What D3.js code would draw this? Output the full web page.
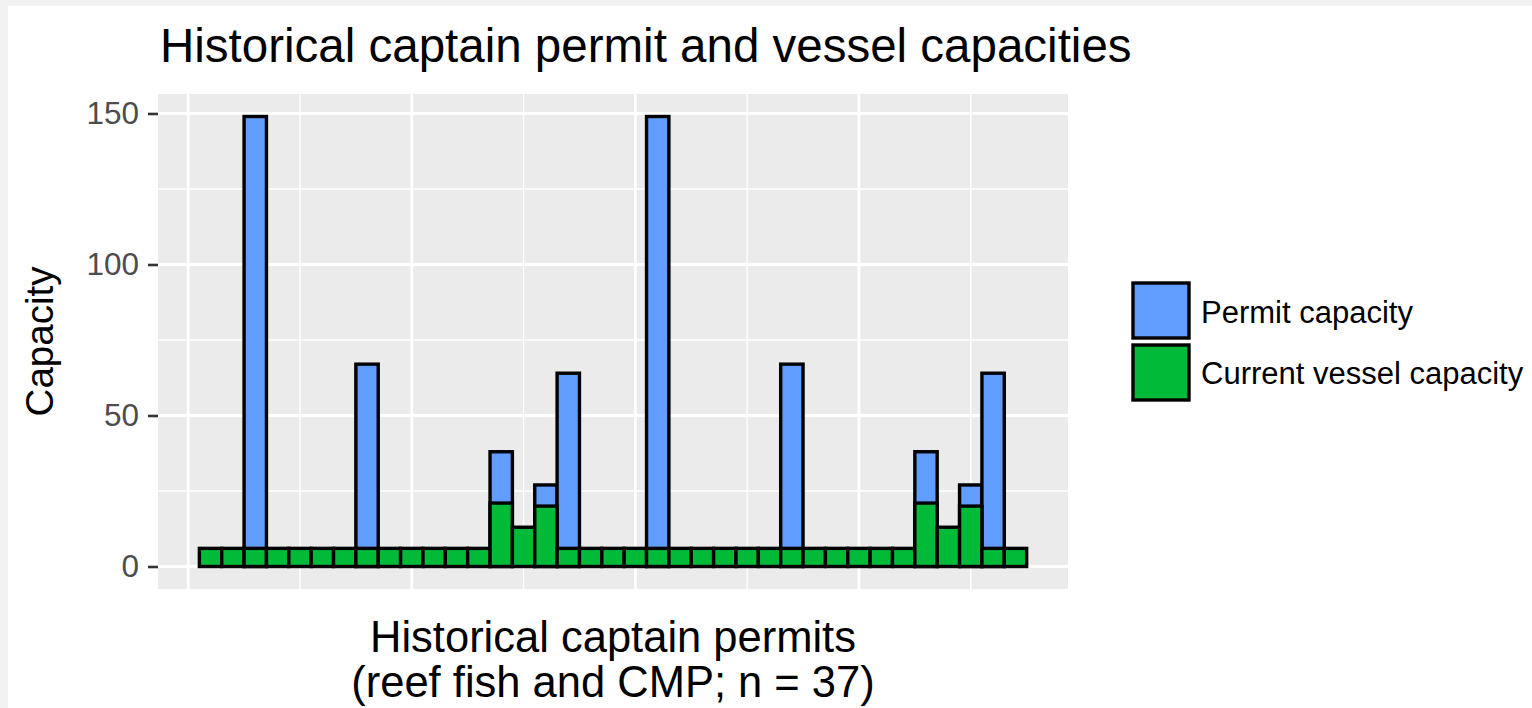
<!DOCTYPE html>
<html>
<head>
<meta charset="utf-8">
<script src="https://cdn.jsdelivr.net/npm/d3@7"></script>
<style>
  html, body { margin: 0; padding: 0; background: #f2f2f2; }
  svg { display: block; font-family: "Liberation Sans", Arial, sans-serif; }
</style>
</head>
<body>
<svg id="chart" width="1532" height="708"></svg>
<script>
// ---- data ----
const permitIds = [1,2,3,4,5,6,7,8,9,10,11,12,13,14,15,16,17,18,19,20,21,22,23,24,25,26,27,28,29,30,31,32,33,34,35,36,37];
const permitCapacity = [0,0,149,0,0,0,0,67,0,0,0,0,0,38,0,27,64,0,0,0,149,0,0,0,0,0,67,0,0,0,0,0,38,0,27,64,0];
const vesselCapacity = [6,6,6,6,6,6,6,6,6,6,6,6,6,21,13,20,6,6,6,6,6,6,6,6,6,6,6,6,6,6,6,6,21,13,20,6,6];
const yTicks = [0, 50, 100, 150];
const yMinor = [25, 75, 125];
const xMajor = [0, 10, 20, 30];
const xMinor = [5, 15, 25, 35];
const seriesNames = ["Permit capacity", "Current vessel capacity"];
const seriesColors = ["#619CFF", "#00BA38"];

const svg = d3.select("#chart");
svg.append("rect").attr("x", 8).attr("y", 6).attr("width", 1532 - 8).attr("height", 708 - 6).attr("fill", "#ffffff");

const panel = { left: 158, right: 1068, top: 94, bottom: 589 };
const x = d3.scaleLinear().domain([-1.35, 39.35]).range([panel.left, panel.right]);
const y = d3.scaleLinear().domain([-7.45, 156.45]).range([panel.bottom, panel.top]);

// panel background
svg.append("rect")
  .attr("x", panel.left).attr("y", panel.top)
  .attr("width", panel.right - panel.left).attr("height", panel.bottom - panel.top)
  .attr("fill", "#EBEBEB");

const grid = svg.append("g");
grid.selectAll(".hmin").data(yMinor).enter().append("line")
  .attr("x1", panel.left).attr("x2", panel.right)
  .attr("y1", d => y(d)).attr("y2", d => y(d))
  .attr("stroke", "#fff").attr("stroke-width", 1.4);
grid.selectAll(".vmin").data(xMinor).enter().append("line")
  .attr("y1", panel.top).attr("y2", panel.bottom)
  .attr("x1", d => x(d)).attr("x2", d => x(d))
  .attr("stroke", "#fff").attr("stroke-width", 1.4);
grid.selectAll(".hmaj").data(yTicks).enter().append("line")
  .attr("x1", panel.left).attr("x2", panel.right)
  .attr("y1", d => y(d)).attr("y2", d => y(d))
  .attr("stroke", "#fff").attr("stroke-width", 2.8);
grid.selectAll(".vmaj").data(xMajor).enter().append("line")
  .attr("y1", panel.top).attr("y2", panel.bottom)
  .attr("x1", d => x(d)).attr("x2", d => x(d))
  .attr("stroke", "#fff").attr("stroke-width", 2.8);

// bars
const permitData = permitIds.map((id, i) => ({ id, v: permitCapacity[i] })).filter(d => d.v > 0);
const vesselData = permitIds.map((id, i) => ({ id, v: vesselCapacity[i] }));
const barW = 1.0;

svg.append("g").selectAll("rect").data(permitData).enter().append("rect")
  .attr("x", d => x(d.id - barW / 2))
  .attr("width", d => x(d.id + barW / 2) - x(d.id - barW / 2))
  .attr("y", d => y(d.v))
  .attr("height", d => y(0) - y(d.v))
  .attr("fill", seriesColors[0]).attr("stroke", "#000").attr("stroke-width", 3.4);

svg.append("g").selectAll("rect").data(vesselData).enter().append("rect")
  .attr("x", d => x(d.id - barW / 2))
  .attr("width", d => x(d.id + barW / 2) - x(d.id - barW / 2))
  .attr("y", d => y(d.v))
  .attr("height", d => y(0) - y(d.v))
  .attr("fill", seriesColors[1]).attr("stroke", "#000").attr("stroke-width", 3.4);

// y axis
const yAxis = d3.axisLeft(y).tickValues(yTicks).tickSize(10).tickPadding(9).tickFormat(d3.format("d"));
const ya = svg.append("g").attr("transform", `translate(${panel.left},0)`).call(yAxis);
ya.select(".domain").remove();
ya.selectAll(".tick line").attr("stroke", "#333333").attr("stroke-width", 2.6);
ya.selectAll(".tick text").attr("fill", "#4d4d4d").style("font-size", "31.5px")
  .style("font-family", "Liberation Sans, Arial, sans-serif");

// titles
svg.append("text").attr("x", 160).attr("y", 62)
  .style("font-size", "47.5px").attr("fill", "#000")
  .text("Historical captain permit and vessel capacities");

svg.append("text")
  .attr("transform", `translate(53,${(panel.top + panel.bottom) / 2}) rotate(-90)`)
  .attr("text-anchor", "middle").style("font-size", "38.5px").attr("fill", "#000")
  .text("Capacity");

const xt = svg.append("text").attr("text-anchor", "middle").style("font-size", "43.5px").attr("fill", "#000");
xt.append("tspan").attr("x", (panel.left + panel.right) / 2).attr("y", 652).text("Historical captain permits");
xt.append("tspan").attr("x", (panel.left + panel.right) / 2).attr("y", 697).text("(reef fish and CMP; n = 37)");

// legend
const legend = svg.append("g");
const keyY = [283, 345];
const baseY = [323, 384];
seriesNames.forEach((name, i) => {
  legend.append("rect").attr("x", 1133).attr("y", keyY[i]).attr("width", 56).attr("height", 55)
    .attr("fill", seriesColors[i]).attr("stroke", "#000").attr("stroke-width", 3.4);
  legend.append("text").attr("x", 1201).attr("y", baseY[i]).style("font-size", "31px").attr("fill", "#000").text(name);
});
</script>
</body>
</html>
